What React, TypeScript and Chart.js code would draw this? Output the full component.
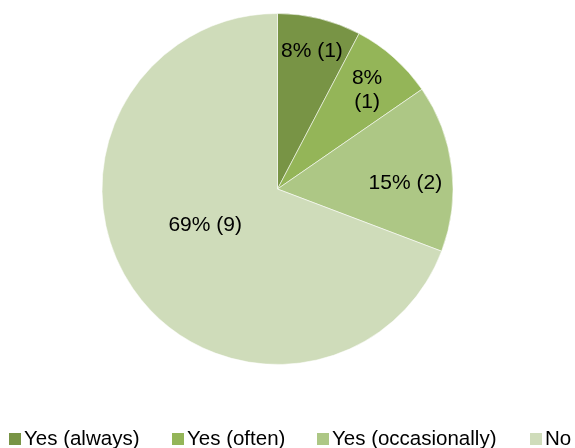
import React, { useEffect, useRef } from 'react';
import { Chart, registerables } from 'chart.js';

Chart.register(...registerables);

const categories = ['Yes (always)', 'Yes (often)', 'Yes (occasionally)', 'No'];
const counts = [1, 1, 2, 9];
const colors = ['#789445', '#94B558', '#ADC785', '#CFDCBA'];

// label placement (fraction of radius, angle nudge in degrees, wrap into two lines)
const labelRadius = [0.82, 0.77, 0.73, 0.455];
const labelNudge = [0, 0, 3.3, 9.5];
const labelWrap = [false, true, false, false];

// legend layout: left edge of each legend swatch
const legendX = [9, 172, 317, 530];

const LABEL_FONT = '21px "Liberation Sans", Arial, sans-serif';
const LEGEND_FONT = '20.5px "Liberation Sans", Arial, sans-serif';

export default function App() {
  const ref = useRef<HTMLCanvasElement>(null);

  useEffect(() => {
    document.body.style.margin = '0';
    const total = counts.reduce((a, b) => a + b, 0);

    const sliceLabels = {
      id: 'sliceLabels',
      afterDatasetsDraw(chart: any) {
        const ctx = chart.ctx;
        const meta = chart.getDatasetMeta(0);
        ctx.save();
        ctx.font = LABEL_FONT;
        ctx.fillStyle = '#000';
        ctx.textAlign = 'center';
        ctx.textBaseline = 'middle';
        meta.data.forEach((arc: any, i: number) => {
          const p = arc.getProps(['x', 'y', 'startAngle', 'endAngle', 'outerRadius'], true);
          const mid = (p.startAngle + p.endAngle) / 2 + (labelNudge[i] * Math.PI) / 180;
          const r = p.outerRadius * labelRadius[i];
          const cx = p.x + Math.cos(mid) * r;
          const cy = p.y + Math.sin(mid) * r + 2;
          const pct = Math.round((counts[i] / total) * 100) + '%';
          const lines = labelWrap[i] ? [pct, `(${counts[i]})`] : [`${pct} (${counts[i]})`];
          const lh = 24;
          lines.forEach((t, j) => ctx.fillText(t, cx, cy + (j - (lines.length - 1) / 2) * lh));
        });
        ctx.restore();
      },
    };

    const bottomLegend = {
      id: 'bottomLegend',
      afterDraw(chart: any) {
        const ctx = chart.ctx;
        ctx.save();
        ctx.font = LEGEND_FONT;
        ctx.textBaseline = 'alphabetic';
        ctx.textAlign = 'left';
        const box = 12;
        const baseline = 445;
        categories.forEach((c, i) => {
          const x = legendX[i];
          ctx.fillStyle = colors[i];
          ctx.fillRect(x, 433, box, box);
          ctx.fillStyle = '#000';
          ctx.fillText(c, x + box + 3, baseline);
        });
        ctx.restore();
      },
    };

    const chart = new Chart(ref.current!, {
      type: 'pie',
      data: {
        labels: categories,
        datasets: [
          {
            data: counts,
            backgroundColor: colors,
            borderColor: 'rgba(255,255,255,0.55)',
            borderWidth: 1,
          },
        ],
      },
      options: {
        responsive: false,
        animation: false,
        layout: { padding: { left: 101.5, right: 121.5, top: 13, bottom: 83 } },
        plugins: {
          legend: { display: false },
          tooltip: { enabled: false },
        },
      },
      plugins: [sliceLabels, bottomLegend],
    });
    return () => chart.destroy();
  }, []);

  return <canvas ref={ref} width={575} height={448} style={{ display: 'block' }} />;
}
